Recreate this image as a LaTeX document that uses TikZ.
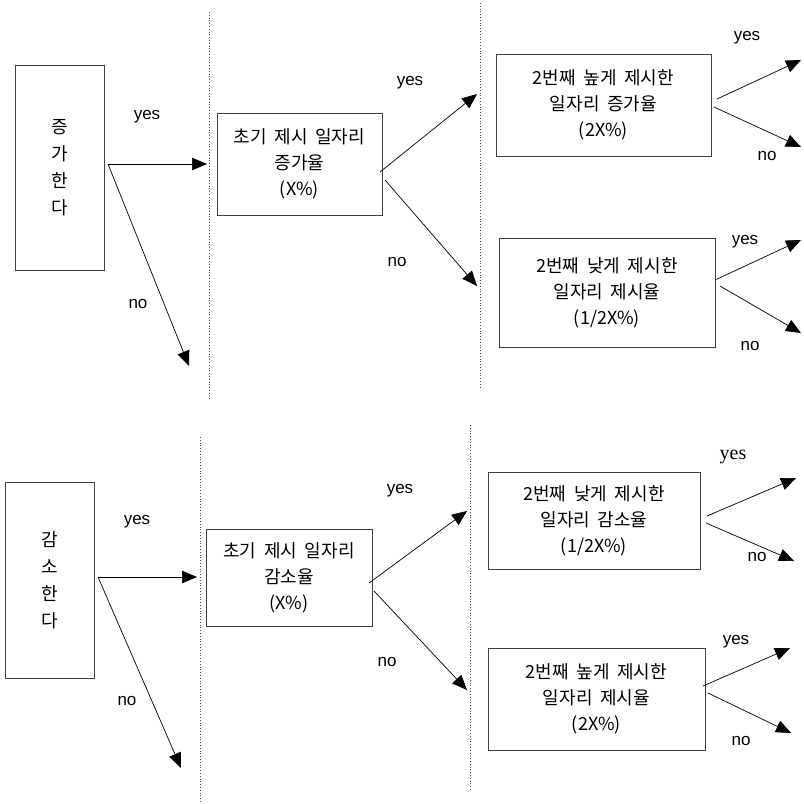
\documentclass[tikz,border=0pt]{standalone}
\usepackage{fontspec}
\setmainfont{Liberation Sans}
\newfontfamily\kr[WordSpace=1.9]{Noto Sans CJK KR}
\newfontfamily\serifyes{Liberation Serif}
\usetikzlibrary{arrows.meta}
\begin{document}
\begin{tikzpicture}[x=1pt,y=-1pt,
  box/.style={draw=black!75, line width=0.8pt, rectangle, inner sep=0pt, align=center,
    font=\kr\fontsize{18}{26}\selectfont},
  vbox/.style={box, font=\kr\fontsize{18}{27}\selectfont},
  arr/.style={draw=black, line width=0.7pt, -{Triangle[length=15pt,width=12.5pt]}},
  lbl/.style={inner sep=0pt, font=\fontsize{17}{17}\selectfont},
  sep/.style={draw=black!70, dotted, line width=0.8pt}]
\useasboundingbox (0,0) rectangle (804,804);

% ---------- top ----------
\node[vbox, minimum width=89pt, minimum height=205pt] (b1) at (59.5,167.5) {증\\가\\한\\다};
\node[box, minimum width=165pt, minimum height=102pt] (i1) at (299.5,164) {초기 제시 일자리\\증가율\\(X\%)};
\node[box, minimum width=215pt, minimum height=102pt] (h1) at (603.5,105) {2번째 높게 제시한\\일자리 증가율\\(2X\%)};
\node[box, minimum width=216pt, minimum height=109pt] (l1) at (607,292.5) {2번째 낮게 제시한\\일자리 제시율\\(1/2X\%)};

\coordinate (s1) at (108,164);
\coordinate (t1a) at (207,164);
\coordinate (t1b) at (189,366);
\coordinate (s2a) at (380,172);
\coordinate (s2b) at (385,180);
\coordinate (t2a) at (477,94);
\coordinate (t2b) at (477,286);
\coordinate (s3a) at (717,99);
\coordinate (s3b) at (714,107);
\coordinate (t3a) at (801,60);
\coordinate (t3b) at (801,147);
\coordinate (s4a) at (715,280);
\coordinate (s4b) at (720,286);
\coordinate (t4a) at (801,240);
\coordinate (t4b) at (801,333);

\draw[arr] (s1) -- (t1a);
\draw[arr] (s1) -- (t1b);
\draw[arr] (s2a) -- (t2a);
\draw[arr] (s2b) -- (t2b);
\draw[arr] (s3a) -- (t3a);
\draw[arr] (s3b) -- (t3b);
\draw[arr] (s4a) -- (t4a);
\draw[arr] (s4b) -- (t4b);

\coordinate (d1t) at (209,12);  \coordinate (d1b) at (209,400);
\coordinate (d2t) at (480,3);   \coordinate (d2b) at (480,388);
\draw[sep] (d1t) -- (d1b);
\draw[sep] (d2t) -- (d2b);

\node[lbl] (y1) at (147,117) {yes};
\node[lbl] (n1) at (138,304) {no};
\node[lbl] (y2) at (410,83) {yes};
\node[lbl] (n2) at (397,262) {no};
\node[lbl] (y3) at (747,38) {yes};
\node[lbl] (n3) at (767,156) {no};
\node[lbl] (y4) at (745,242) {yes};
\node[lbl] (n4) at (750,346) {no};

% ---------- bottom ----------
\node[vbox, minimum width=89pt, minimum height=196pt] (b2) at (49.5,580) {감\\소\\한\\다};
\node[box, minimum width=166pt, minimum height=97pt] (i2) at (289,577.5) {초기 제시 일자리\\감소율\\(X\%)};
\node[box, minimum width=212pt, minimum height=97pt] (l2) at (594,520.5) {2번째 낮게 제시한\\일자리 감소율\\(1/2X\%)};
\node[box, minimum width=217pt, minimum height=102pt] (h2) at (596.5,699) {2번째 높게 제시한\\일자리 제시율\\(2X\%)};

\coordinate (u1) at (98,577);
\coordinate (v1a) at (197,577);
\coordinate (v1b) at (181,768);
\coordinate (u2a) at (369,583);
\coordinate (u2b) at (374,591);
\coordinate (v2a) at (467,511);
\coordinate (v2b) at (467,690);
\coordinate (u3a) at (707,516);
\coordinate (u3b) at (706,523);
\coordinate (v3a) at (796,478);
\coordinate (v3b) at (794,561);
\coordinate (u4a) at (703,686);
\coordinate (u4b) at (708,693);
\coordinate (v4a) at (790,648);
\coordinate (v4b) at (791,733);

\draw[arr] (u1) -- (v1a);
\draw[arr] (u1) -- (v1b);
\draw[arr] (u2a) -- (v2a);
\draw[arr] (u2b) -- (v2b);
\draw[arr] (u3a) -- (v3a);
\draw[arr] (u3b) -- (v3b);
\draw[arr] (u4a) -- (v4a);
\draw[arr] (u4b) -- (v4b);

\coordinate (e1t) at (200,437); \coordinate (e1b) at (200,804);
\coordinate (e2t) at (470,425); \coordinate (e2b) at (470,790);
\draw[sep] (e1t) -- (e1b);
\draw[sep] (e2t) -- (e2b);

\node[lbl] (y5) at (137,522) {yes};
\node[lbl] (n5) at (127,701) {no};
\node[lbl] (y6) at (400,491) {yes};
\node[lbl] (n6) at (387,662) {no};
\node[lbl, font=\serifyes\fontsize{20}{20}\selectfont] (y7) at (733,457) {yes};
\node[lbl] (n7) at (757,557) {no};
\node[lbl] (y8) at (736,642) {yes};
\node[lbl] (n8) at (741,741) {no};
\end{tikzpicture}
\end{document}
